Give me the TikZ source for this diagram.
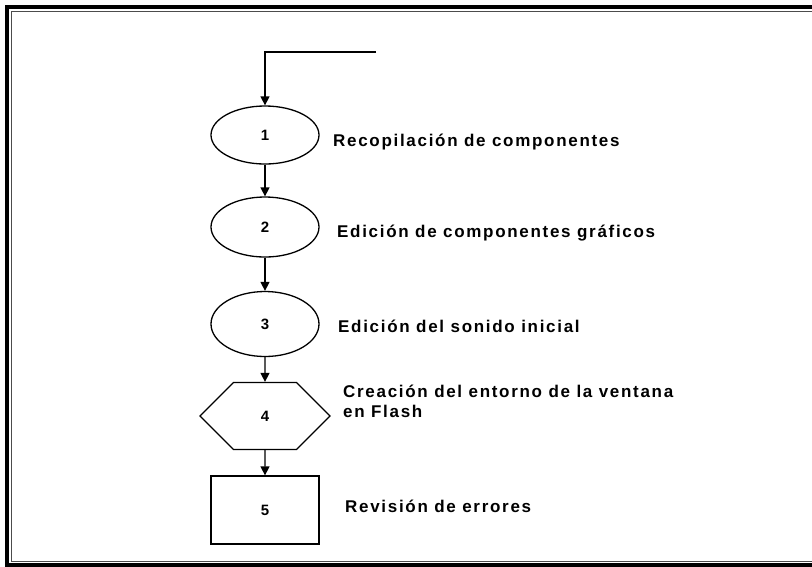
\documentclass[tikz,border=0pt]{standalone}
\usepackage{fontspec}
\setmainfont{Liberation Sans}
\newfontfamily\stepfont[LetterSpace=10]{Liberation Sans}
\usetikzlibrary{arrows.meta,positioning,shapes.geometric,shapes.symbols}

\begin{document}
\begin{tikzpicture}[x=1pt,y=-1pt,
    flow/.style={draw, line width=1.3pt, inner sep=0pt,
      font=\bfseries\fontsize{15}{17}\selectfont},
    oval/.style={flow, ellipse, minimum width=108pt},
    hexa/.style={flow, signal, signal to=east and west,
      signal pointer angle=90, minimum width=130pt, minimum height=67pt},
    box/.style={flow, rectangle, minimum width=108pt, minimum height=68pt},
    desc/.style={anchor=base west, inner sep=0pt, align=left,
      font=\stepfont\bfseries\fontsize{17}{20}\selectfont},
    link/.style={line width=1.4pt, -{Triangle[length=9pt,width=9pt]}}]
  \useasboundingbox (0,0) rectangle (812,566);

  % double frame
  \draw[line width=4pt] (7,7) rectangle (830,565);
  \draw[line width=1pt, black!70] (11.5,11.5) rectangle (830,561.5);

  \node[oval, minimum height=58pt] (e1) at (265,135) {1};
  \node[oval, minimum height=60pt] (e2) at (265,227) {2};
  \node[oval, minimum height=65pt] (e3) at (265,324) {3};
  \node[hexa] (h4) at (265,416) {4};
  \node[box] (b5) at (265,510) {5};

  \coordinate (start) at (376,52);
  \draw[link] (start) -| (e1);
  \draw[link] (e1) -- (e2);
  \draw[link] (e2) -- (e3);
  \draw[link] (e3) -- (h4);
  \draw[link] (h4) -- (b5);

  \node[desc] (t1) at (333,146) {Recopilación de componentes};
  \node[desc] (t2) at (337,237) {Edición de componentes gráficos};
  \node[desc] (t3) at (338,332) {Edición del sonido inicial};
  \node[desc] (t4) at (343,417) {Creación del entorno de la ventana\\en Flash};
  \node[desc] (t5) at (345,512) {Revisión de errores};
\end{tikzpicture}
\end{document}
